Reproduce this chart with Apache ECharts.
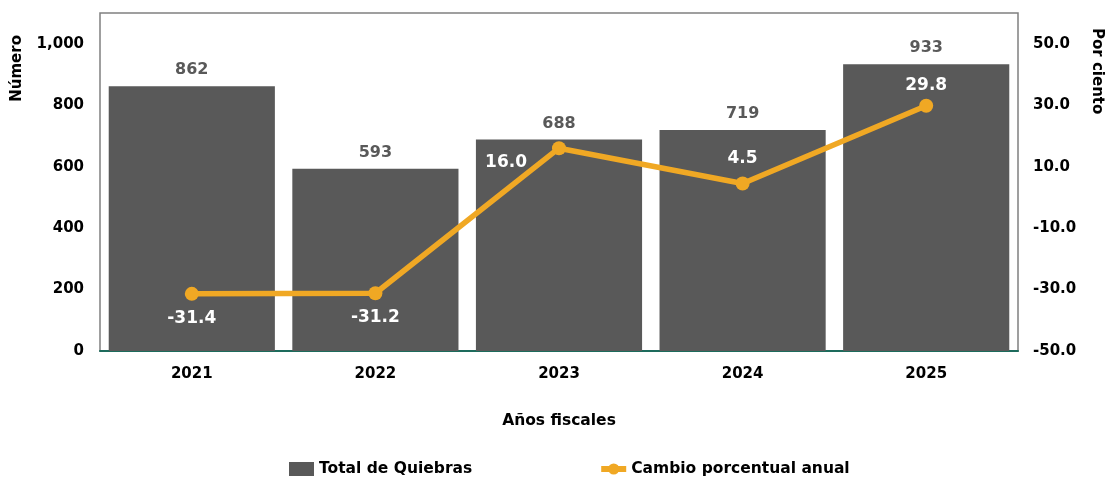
<!DOCTYPE html>
<html>
<head>
<meta charset="utf-8">
<script src="https://cdn.jsdelivr.net/npm/echarts@6/dist/echarts.min.js"></script>
<style>
  html, body { margin: 0; padding: 0; background: #fff; }
  #chart { width: 1108px; height: 477px; }
</style>
</head>
<body>
<div id="chart"></div>
<script>
const years = ["2021", "2022", "2023", "2024", "2025"];
const quiebras = [862, 593, 688, 719, 933];
const cambio = [-31.4, -31.2, 16.0, 4.5, 29.8];
const cambioLabelPos = ["bottom", "bottom", "left", "top", "top"];

const FONT = "DejaVu Sans";
const chart = echarts.init(document.getElementById("chart"), null, { renderer: "canvas" });

chart.setOption({
  backgroundColor: "#fff",
  textStyle: { fontFamily: FONT, fontWeight: "bold" },
  grid: {
    left: 100, right: 90, top: 13, bottom: 126,
    show: true, borderColor: "#808080", borderWidth: 1.5,
  },
  legend: {
    top: 456,
    left: 284,
    itemGap: 126,
    itemWidth: 25,
    itemHeight: 14,
    textStyle: { fontFamily: FONT, fontWeight: "bold", fontSize: 15.5, color: "#000" },
    data: [
      { name: "Total de Quiebras", icon: "rect" },
      { name: "Cambio porcentual anual", lineStyle: { width: 6 } },
    ],
  },
  graphic: [
    {
      type: "text", left: 10, top: 35, rotation: Math.PI / 2,
      style: { text: "Número", font: "bold 15px 'DejaVu Sans'", fill: "#000" },
    },
    {
      type: "text", left: 1089, top: 28, rotation: -Math.PI / 2,
      style: { text: "Por ciento", font: "bold 15px 'DejaVu Sans'", fill: "#000" },
    },
  ],
  xAxis: {
    type: "category",
    data: years,
    name: "Años fiscales",
    nameLocation: "middle",
    nameGap: 62,
    nameTextStyle: { fontFamily: FONT, fontWeight: "bold", fontSize: 15.5, color: "#000" },
    axisLine: { lineStyle: { color: "#1d6b5c", width: 2 } },
    axisTick: { show: false },
    axisLabel: { color: "#000", fontSize: 15, fontWeight: "bold", margin: 16 },
  },
  yAxis: [
    {
      type: "value", min: 0, max: 1100, interval: 100,
      splitLine: { show: false },
      axisLine: { show: false },
      axisTick: { show: false },
      axisLabel: {
        color: "#000", fontSize: 15, fontWeight: "bold", margin: 16,
        formatter: v => (v % 200 === 0 && v <= 1000) ? v.toLocaleString("en-US") : "",
      },
    },
    {
      type: "value", min: -50, max: 60, interval: 10,
      splitLine: { show: false },
      axisLine: { show: false },
      axisTick: { show: false },
      axisLabel: {
        color: "#000", fontSize: 15, fontWeight: "bold", margin: 15,
        formatter: v => ((v + 50) % 20 === 0 && v <= 50) ? v.toFixed(1) : "",
      },
    },
  ],
  series: [
    {
      name: "Total de Quiebras",
      type: "bar",
      data: quiebras,
      barCategoryGap: "9.5%",
      itemStyle: { color: "#595959" },
      label: {
        show: true, position: "top", distance: 8,
        color: "#595959", fontSize: 16, fontWeight: "bold",
      },
      z: 1,
    },
    {
      name: "Cambio porcentual anual",
      type: "line",
      yAxisIndex: 1,
      data: cambio.map((v, i) => ({
        value: v,
        label: {
          position: cambioLabelPos[i],
          offset: cambioLabelPos[i] === "left" ? [-16, 14] : (i === 4 ? [0, 4] : [0, 0]),
        },
      })),
      symbol: "circle",
      symbolSize: 14,
      lineStyle: { color: "#f0a824", width: 5.5 },
      itemStyle: { color: "#f0a824" },
      label: {
        show: true, distance: 9,
        color: "#fff", fontSize: 17, fontWeight: "bold",
        formatter: p => p.value.toFixed(1),
      },
      z: 3,
    },
  ],
});
</script>
</body>
</html>
